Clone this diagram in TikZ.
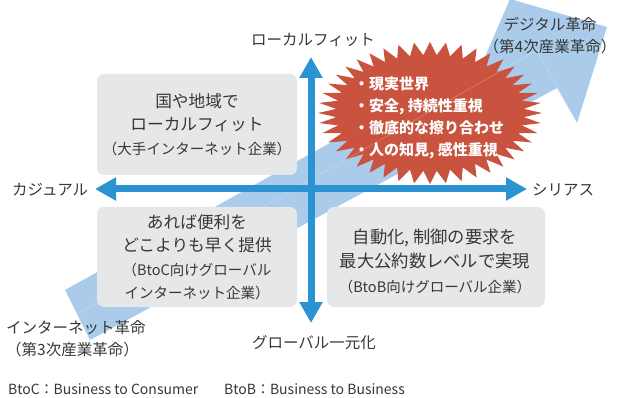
\documentclass[tikz,border=0pt]{standalone}
\usepackage{fontspec}
\setmainfont{Noto Sans CJK JP}
\usetikzlibrary{arrows.meta}
\definecolor{axisblue}{RGB}{43,147,210}
\definecolor{bandblue}{RGB}{170,203,234}
\definecolor{boxgray}{RGB}{230,231,233}
\definecolor{burstred}{RGB}{201,83,63}
\definecolor{txt}{RGB}{55,55,55}
\tikzset{
  lbl/.style={text=txt, inner sep=0pt, font=\fontsize{15.5}{22}\selectfont},
  gbox/.style={fill=boxgray, rounded corners=7pt, align=center, inner sep=0pt, text=txt,
    font=\fontsize{16.7}{23.5}\selectfont},
  boxtext/.style={align=center, inner sep=0pt, text=txt, font=\fontsize{17.3}{24.5}\selectfont},
  axisline/.style={draw=axisblue, line width=7pt,
    arrows={Triangle[length=21pt,width=22pt]-Triangle[length=21pt,width=22pt]}},
  bursttext/.style={text=white, align=left, inner sep=0pt, font=\bfseries\fontsize{15}{22}\selectfont},
  foot/.style={text=txt, inner sep=0pt, anchor=west, font=\fontsize{14}{16}\selectfont}
}
\newcommand{\smallline}[1]{{\fontsize{14.5}{21}\selectfont #1}}
\begin{document}
\begin{tikzpicture}[x=1pt,y=-1pt]
\useasboundingbox (0,0) rectangle (624,398);
\clip (0,0) rectangle (624,398);
% big diagonal arrow
\fill[bandblue] (65,290) -- (485,57) -- (510,-1) -- (607,27) -- (577,123)
  -- (557,88) -- (90,340) -- cycle;
% starburst
\fill[burstred] (542,113) \foreach \k in {1,...,87}{
  -- ({430+(112-18*mod(\k,2))*cos(4.0909*\k)}, {113+(71-13*mod(\k,2))*sin(4.0909*\k)}) } -- cycle;
\draw[white, opacity=0.35, line width=0.4pt] (77.5,314) -- (537,50) -- (577,123);
\node[bursttext, anchor=north west] (burst) at (354,77)
  {・現実世界\\・安全, 持続性重視\\・徹底的な擦り合わせ\\・人の知見, 感性重視};
% boxes
\node[gbox, minimum width=200pt, minimum height=101pt] (tl) at (197,124.5)
  {国や地域で\\ローカルフィット\\\smallline{（大手インターネット企業）}};
\node[gbox, minimum width=200pt, minimum height=100pt] (bl) at (197,257)
  {あれば便利を\\どこよりも早く提供\\\smallline{（BtoC向けグローバル}\\\smallline{インターネット企業）}};
\node[gbox, minimum width=218pt, minimum height=100pt] (br) at (436,257) {};
\node[boxtext] (brt) at (435,261)
  {自動化, 制御の要求を\\最大公約数レベルで実現\\\smallline{（BtoB向けグローバル企業）}};
% axes
\coordinate (vt) at (311,57);
\coordinate (vb) at (311,323);
\coordinate (hl) at (95,189);
\coordinate (hr) at (527,189);
\draw[axisline] (hl) -- (hr);
\draw[axisline] (vb) -- (vt);
% labels
\node[lbl] (lf) at (313,40) {ローカルフィット};
\node[lbl] (gl) at (314,343) {グローバル一元化};
\node[lbl, anchor=west] (cj) at (12,190) {カジュアル};
\node[lbl, anchor=west] (sr) at (532,190) {シリアス};
\node[lbl, align=center] (dr) at (550,36) {デジタル革命\\（第4次産業革命）};
\node[lbl, align=left, anchor=west] (ir) at (6,339) {インターネット革命\\（第3次産業革命）};
\node[foot] (f1) at (8,389) {BtoC：Business to Consumer};
\node[foot] (f2) at (224,389) {BtoB：Business to Business};
\end{tikzpicture}
\end{document}
